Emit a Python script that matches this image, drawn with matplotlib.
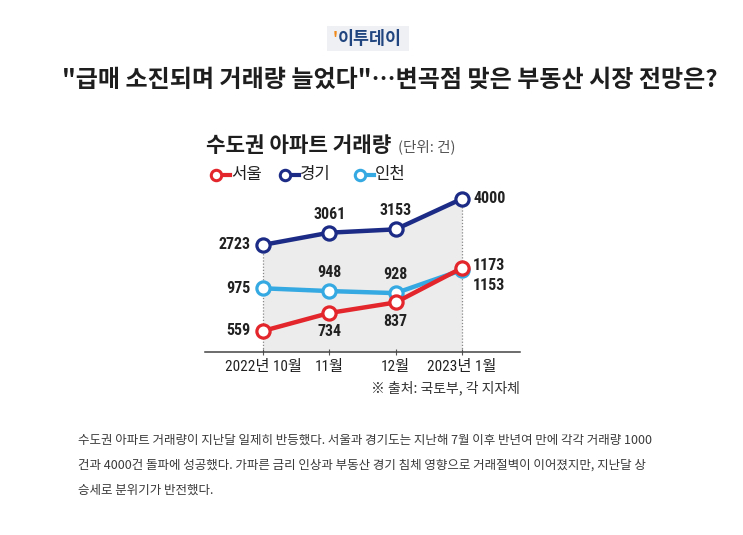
import numpy as np
import matplotlib.pyplot as plt
from matplotlib import font_manager
from matplotlib.lines import Line2D
from matplotlib.patches import FancyBboxPatch

plt.rcParams['font.family'] = ['Noto Sans CJK KR', 'DejaVu Sans']

months = ['2022년 10월', '11월', '12월', '2023년 1월']
seoul = [559, 734, 837, 1173]
gyeonggi = [2723, 3061, 3153, 4000]
incheon = [975, 948, 928, 1153]

c_seoul = '#e3262b'
c_gg = '#1c2c86'
c_ic = '#35a9e1'

# narrow font for numbers if one is installed
installed = {f.name for f in font_manager.fontManager.ttflist}
narrow = [n for n in ('Liberation Sans Narrow', 'Roboto Condensed') if n in installed]
numfam = narrow[:1] + ['Noto Sans CJK KR']

# broken (compressed) scale like the original graphic
brk_in = [0, 1200, 2700, 6000]
brk_out = [0, 1200, 1390, 1390 + 3300 * 0.352]


def fwd(v):
    return np.interp(v, brk_in, brk_out)


def inv(v):
    return np.interp(v, brk_out, brk_in)


fig = plt.figure(figsize=(7.43, 5.35), dpi=100)

# logo
fig.patches.append(FancyBboxPatch((327 / 743, 1 - 51 / 535), 82 / 743, 25 / 535,
                                  boxstyle='square,pad=0', transform=fig.transFigure,
                                  fc='#eef0f4', ec='none'))
fig.text(333 / 743, 1 - 39 / 535, "'", color='#f08a1c', fontsize=11, fontweight='bold',
         va='center', ha='left')
fig.text(338 / 743, 1 - 39 / 535, '이투데이', color='#21467f', fontsize=12.5,
         fontweight='bold', va='center', ha='left')

fig.text(389.5 / 743, 1 - 80 / 535, '"급매 소진되며 거래량 늘었다"…변곡점 맞은 부동산 시장 전망은?',
         fontsize=17.3, fontweight='bold', color='#1e1e1e', ha='center', va='center')

# chart title
fig.text(206 / 743, 1 - 146 / 535, '수도권 아파트 거래량', fontsize=15.3, fontweight='bold',
         color='#1e1e1e', ha='left', va='center')
fig.text(398 / 743, 1 - 147 / 535, '(단위: 건)', fontsize=10.5, color='#555555',
         ha='left', va='center')

# legend
for x0, col, name in [(216, c_seoul, '서울'), (285, c_gg, '경기'), (360, c_ic, '인천')]:
    y0 = 1 - 175 / 535
    fig.add_artist(Line2D([x0 / 743, (x0 + 14) / 743], [y0, y0], color=col, lw=3,
                          transform=fig.transFigure))
    fig.add_artist(Line2D([x0 / 743], [y0], marker='o', ms=7.5, mfc='white', mec=col,
                          mew=2.2, transform=fig.transFigure))
    fig.text((x0 + 15) / 743, y0, name, fontsize=12, color='#222222', ha='left', va='center')

ax = fig.add_axes([205 / 743, 1 - 352 / 535, 315 / 743, 162 / 535])
ax.set_yscale('function', functions=(fwd, inv))

x = np.arange(len(months))
ax.fill_between(x, 300, gyeonggi, color='#ececec', lw=0, zorder=0)
ax.vlines([x[0], x[-1]], 300, [gyeonggi[0], gyeonggi[-1]], colors='#888888',
          linestyles=(0, (1, 1.5)), lw=0.9, zorder=1)

for vals, col in [(gyeonggi, c_gg), (incheon, c_ic), (seoul, c_seoul)]:
    ax.plot(x, vals, color=col, lw=3.2, marker='o', ms=9.5, mfc='white', mec=col, mew=2.3,
            zorder=3, solid_capstyle='round')

lab = dict(fontsize=11.5, fontweight='bold', color='#222222', family=numfam)
# left labels
for vals in (gyeonggi, incheon, seoul):
    ax.annotate(str(vals[0]), (x[0], vals[0]), xytext=(-9, 0), textcoords='offset points',
                ha='right', va='center', **lab)
# middle labels
for i in (1, 2):
    ax.annotate(str(gyeonggi[i]), (x[i], gyeonggi[i]), xytext=(0, 8), textcoords='offset points',
                ha='center', va='bottom', **lab)
    ax.annotate(str(incheon[i]), (x[i], incheon[i]), xytext=(0, 8), textcoords='offset points',
                ha='center', va='bottom', **lab)
    ax.annotate(str(seoul[i]), (x[i], seoul[i]), xytext=(0, -8), textcoords='offset points',
                ha='center', va='top', **lab)
# right labels
ax.annotate(str(gyeonggi[3]), (x[3], gyeonggi[3]), xytext=(8, 0), textcoords='offset points',
            ha='left', va='center', **lab)
ax.annotate(str(seoul[3]), (x[3], seoul[3]), xytext=(8, 2), textcoords='offset points',
            ha='left', va='center', **lab)
ax.annotate(str(incheon[3]), (x[3], incheon[3]), xytext=(8, -11), textcoords='offset points',
            ha='left', va='center', **lab)

ax.set_xlim(-0.874, 3.875)
ax.set_ylim(354, 4243)
ax.set_xticks(x)
ax.set_xticklabels(months, fontsize=11, color='#222222', family=numfam)
ax.tick_params(axis='x', length=4, width=0.8, color='#555555', direction='inout', pad=4)
ax.set_yticks([])
ax.yaxis.set_minor_locator(plt.NullLocator())
for s in ('top', 'left', 'right'):
    ax.spines[s].set_visible(False)
ax.spines['bottom'].set_color('#444444')
ax.spines['bottom'].set_linewidth(1.1)
ax.patch.set_alpha(0)

fig.text(520 / 743, 1 - 388 / 535, '※ 출처: 국토부, 각 지자체', fontsize=10, color='#333333',
         ha='right', va='center')

body = ['수도권 아파트 거래량이 지난달 일제히 반등했다. 서울과 경기도는 지난해 7월 이후 반년여 만에 각각 거래량 1000',
        '건과 4000건 돌파에 성공했다. 가파른 금리 인상과 부동산 경기 침체 영향으로 거래절벽이 이어졌지만, 지난달 상',
        '승세로 분위기가 반전했다.']
for i, line in enumerate(body):
    fig.text(78 / 743, 1 - (440 + 25 * i) / 535, line, fontsize=9, color='#3a3a3a',
             ha='left', va='center')

fig.savefig('out.png', dpi=100, facecolor='white')
